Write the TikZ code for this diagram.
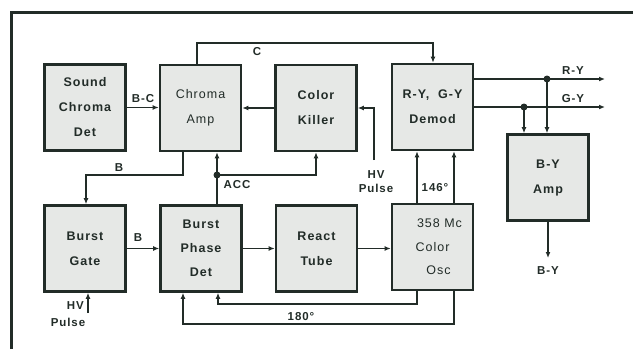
\documentclass[tikz,border=0pt]{standalone}
\usepackage{fontspec}
\setmainfont{Liberation Sans}
\newfontfamily\spfont[LetterSpace=8]{Liberation Sans}
\usetikzlibrary{arrows.meta}
\definecolor{lineC}{RGB}{34,44,40}
\definecolor{fillC}{RGB}{230,232,230}
\tikzset{
  blk/.style={draw=lineC, line width=2.6pt, fill=fillC, minimum width=81pt, minimum height=86pt,
    inner sep=0pt, align=center, text=lineC, font=\spfont\bfseries\fontsize{12.5}{25}\selectfont},
  blkr/.style={blk, font=\spfont\fontsize{12.5}{25}\selectfont},
  wire/.style={draw=lineC, line width=1.9pt},
  arr/.style={wire, -{Latex[length=6pt,width=5pt]}},
  lbl/.style={text=lineC, inner sep=0pt, font=\spfont\bfseries\fontsize{11.5}{14}\selectfont, align=center},
  dot/.style={circle, fill=lineC, inner sep=0pt, minimum size=7pt}
}
\begin{document}
\begin{tikzpicture}[x=1pt,y=-1pt]
\useasboundingbox (0,0) rectangle (633,349);
% frame
\draw[lineC, line width=3pt] (11,349) -- (11,12) -- (633,12);
% boxes
\node[blk]  (sound)  at (85,107.5)  {Sound\\Chroma\\Det};
\node[blkr] (chroma) at (200.5,108) {Chroma\\Amp};
\node[blk]  (killer) at (316,108)   {Color\\Killer};
\node[blk]  (demod)  at (432.5,107) {R-Y,\ \ G-Y\\Demod};
\node[blk]  (bya)    at (548,177.5) {B-Y\\Amp};
\node[blk]  (gate)   at (85,248.5)  {Burst\\Gate};
\node[blk, font=\spfont\bfseries\fontsize{12.5}{24}\selectfont] (bpd) at (201,248.5) {Burst\\Phase\\Det};
\node[blk]  (react)  at (316.5,248.5) {React\\Tube};
\node[blkr, font=\spfont\fontsize{12.5}{23.5}\selectfont] (osc) at (432.5,247) {\hspace*{14pt}358 Mc\\Color\\\hspace*{12pt}Osc};
% coordinates
\coordinate (c1) at (197,43);
\coordinate (c2) at (433,43);
\coordinate (hv1) at (374,160);
\coordinate (acc) at (217,175);
\coordinate (b1) at (183,175);
\coordinate (b2) at (86,175);
\coordinate (hv2) at (88,313);
\coordinate (o1) at (417,304);
\coordinate (o1b) at (218,304);
\coordinate (o2) at (454,324);
\coordinate (o2b) at (183,324);
\coordinate (ry) at (605,79);
\coordinate (gy) at (605,107);
\coordinate (ryd) at (547,79);
\coordinate (gyd) at (524,107);
\coordinate (byo) at (548,258);
% connectors
\draw[arr] (chroma.north -| c1) -- (c1) -- (c2) -- (demod.north -| c2);
\draw[arr] (sound.east) -- (sound.east -| chroma.west);
\draw[arr] (killer.west) -- (killer.west -| chroma.east);
\draw[arr] (hv1) |- (killer.east);
\draw[arr] (bpd.north -| acc) -- (chroma.south -| acc);
\draw[arr] (acc) -| (killer.south);
\draw[arr] (chroma.south -| b1) -- (b1) -- (b2) -- (gate.north -| b2);
\draw[arr] (gate.east) -- (bpd.west);
\draw[arr] (bpd.east) -- (react.west);
\draw[arr] (react.east) -- (react.east -| osc.west);
\draw[arr] (hv2) -- (gate.south -| hv2);
\draw[arr] (osc.south -| o1) -- (o1) -- (o1b) -- (bpd.south -| o1b);
\draw[arr] (osc.south -| o2) -- (o2) -- (o2b) -- (bpd.south -| o2b);
\draw[arr] (osc.north -| o1) -- (demod.south -| o1);
\draw[arr] (osc.north -| o2) -- (demod.south -| o2);
\draw[arr] (demod.east |- ry) -- (ry);
\draw[arr] (demod.east |- gy) -- (gy);
\draw[arr] (ryd) -- (bya.north -| ryd);
\draw[arr] (gyd) -- (bya.north -| gyd);
\draw[arr] (bya.south) -- (byo);
\node[dot] (dacc) at (acc) {};
\node[dot] (dry) at (ryd) {};
\node[dot] (dgy) at (gyd) {};
% labels
\node[lbl] (lc)   at (257,52)  {C};
\node[lbl] (lbc)  at (143,99)  {B-C};
\node[lbl] (lb1)  at (119,168) {B};
\node[lbl] (lb2)  at (138,238) {B};
\node[lbl] (lacc) at (237,185) {ACC};
\node[lbl] (lhv1) at (376,182) {HV\\Pulse};
\node[lbl, anchor=east] (lhv2a) at (84,306) {HV};
\node[lbl] (lhv2b) at (68,322) {Pulse};
\node[lbl] (l146) at (435,188) {146°};
\node[lbl] (l180) at (301,317) {180°};
\node[lbl] (lry)  at (573,71)  {R-Y};
\node[lbl] (lgy)  at (573,99)  {G-Y};
\node[lbl] (lby)  at (548,271) {B-Y};
\end{tikzpicture}
\end{document}
